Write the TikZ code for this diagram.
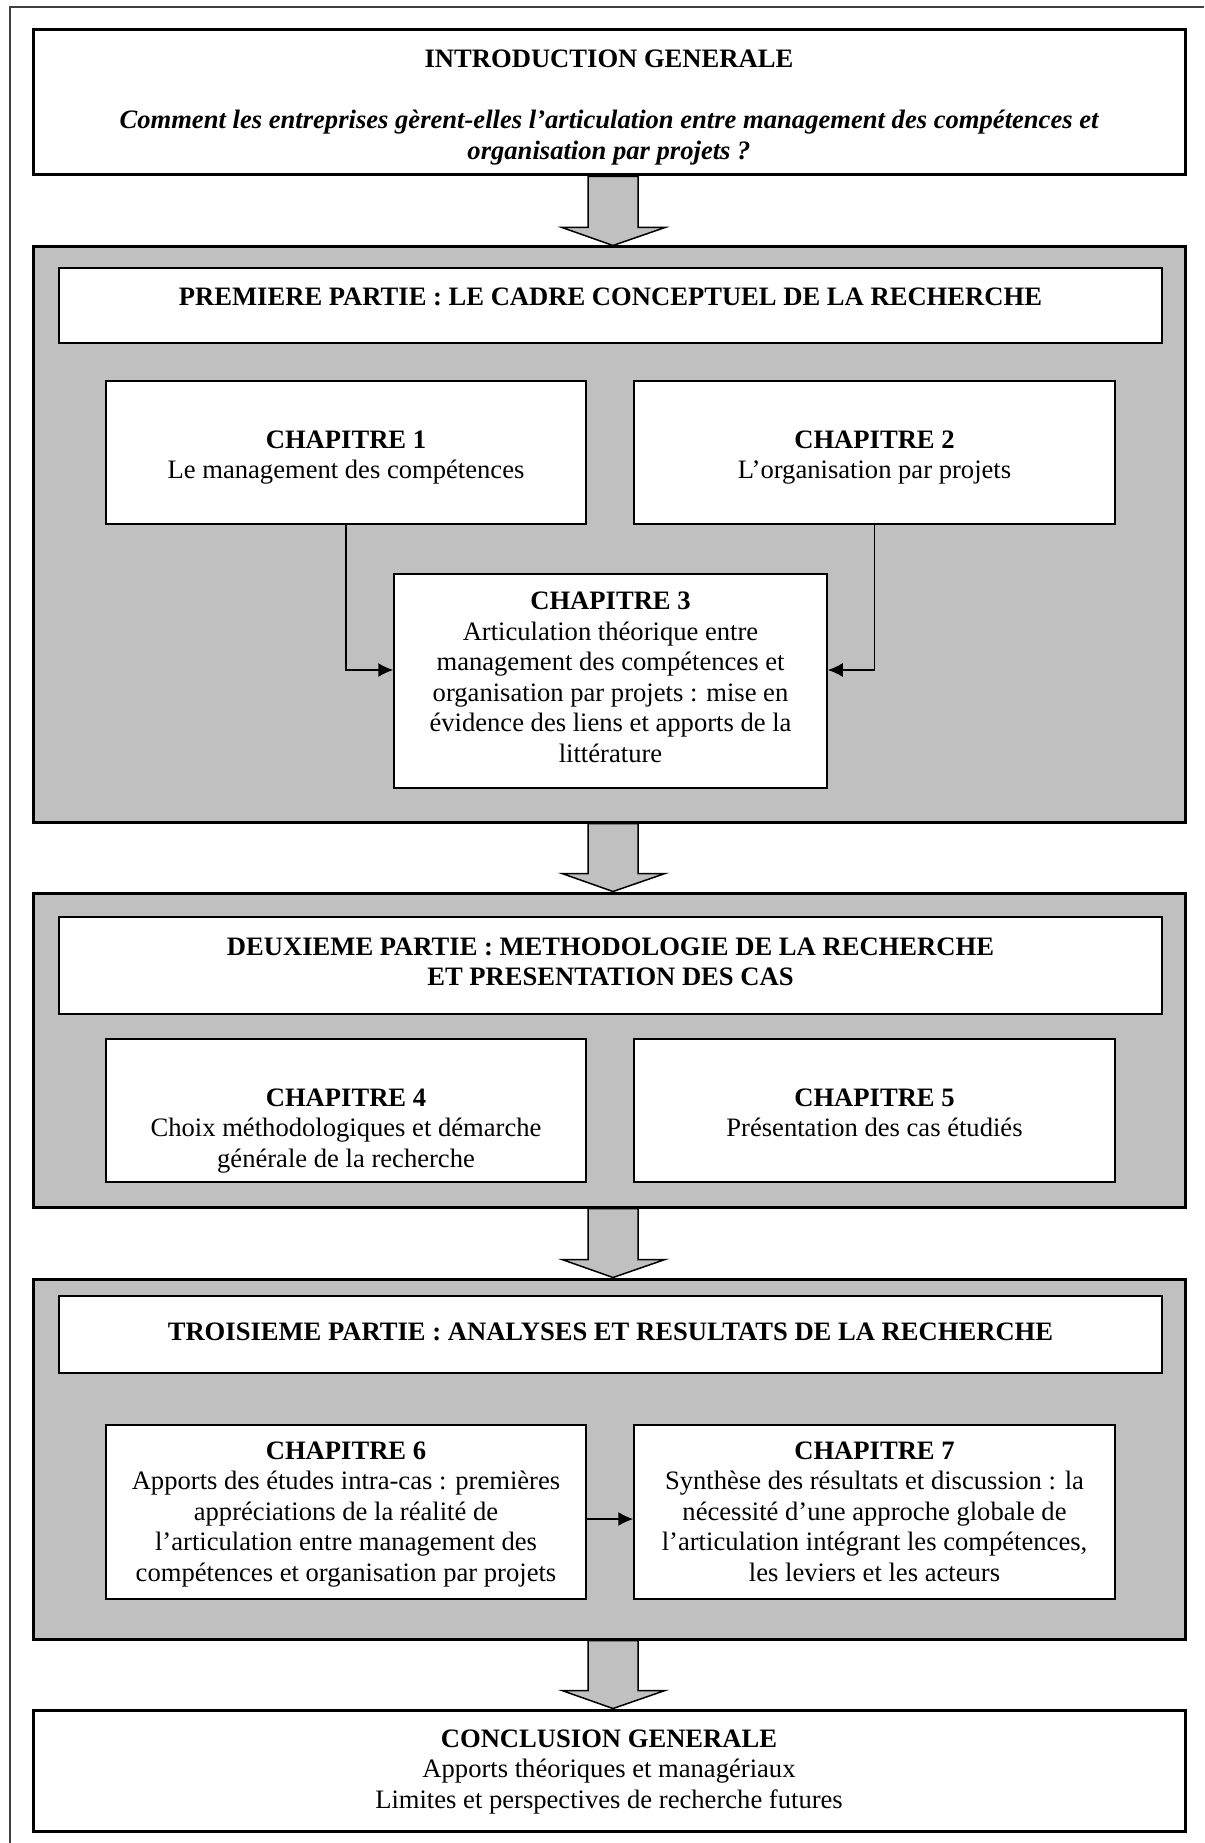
\documentclass[tikz,border=0pt]{standalone}
\usepackage{fontspec}
\setmainfont{Liberation Serif}
\usetikzlibrary{arrows.meta,calc,backgrounds}
\definecolor{panelgray}{HTML}{C0C0C0}
\tikzset{
  txt/.style={align=center, inner sep=0pt, font=\fontsize{26.6}{30.5}\selectfont},
  outerbox/.style={draw=black, fill=white, line width=3pt, inner sep=0pt},
  panel/.style={draw=black, fill=panelgray, line width=3pt, inner sep=0pt},
  titlebox/.style={draw=black, fill=white, line width=1.5pt, inner sep=0pt},
  chapbox/.style={draw=black, fill=white, line width=1.5pt, inner sep=0pt},
  conn/.style={line width=1.5pt, -{Latex[length=15pt,width=14pt]}},
  bigarr/.style={fill=panelgray, draw=black, line width=1.5pt, line join=miter},
}
\newcommand\bigarrow[2]{%
  \path[bigarr] let \p1=(#1.south), \p2=(#2.north) in
  (\x1-21pt,\y1) -- (\x1-21pt,\y2+18pt) -- (\x1-47pt,\y2+18pt) -- (\x1+4pt,\y2)
  -- (\x1+56pt,\y2+18pt) -- (\x1+29pt,\y2+18pt) -- (\x1+29pt,\y1) -- cycle;}

\begin{document}
\begin{tikzpicture}[x=1pt,y=-1pt]
\useasboundingbox (0,0) rectangle (1204,1843);
\draw[black!75, line width=1.2pt] (10,1843) -- (10,7) -- (1204,7);

% Introduction
\node[outerbox, minimum width=1152pt, minimum height=145pt] (intro) at (609,102.5) {};
\node[txt] (intro-t) at ([yshift=-5pt]intro.center)
  {\textbf{INTRODUCTION GENERALE}\\[30.5pt]
   {\bfseries\itshape Comment les entreprises gèrent-elles l’articulation entre management des compétences et}\\
   {\bfseries\itshape organisation par projets ?}};

% Part 1
\node[panel, minimum width=1152pt, minimum height=575pt] (p1) at (609,534.5) {};
\node[titlebox, minimum width=1103pt, minimum height=75pt] (p1t) at (610.5,305.5) {};
\node[txt] (p1t-t) at ([yshift=9pt]p1t.center)
  {\textbf{PREMIERE PARTIE : LE CADRE CONCEPTUEL DE LA RECHERCHE}};
\node[chapbox, minimum width=480pt, minimum height=143pt] (ch1) at (346,452.5) {};
\node[txt] (ch1-t) at ([yshift=-5pt]ch1.center)
  {\textbf{CHAPITRE 1}\\Le management des compétences};
\node[chapbox, minimum width=481pt, minimum height=143pt] (ch2) at (874.5,452.5) {};
\node[txt] (ch2-t) at ([yshift=-5pt]ch2.center)
  {\textbf{CHAPITRE 2}\\L’organisation par projets};
\node[chapbox, minimum width=433pt, minimum height=214pt] (ch3) at (610.5,681) {};
\node[txt] (ch3-t) at ([yshift=3.5pt]ch3.center)
  {\textbf{CHAPITRE 3}\\Articulation théorique entre\\management des compétences et\\organisation par projets : mise en\\évidence des liens et apports de la\\littérature};
\draw[conn] (ch1.south) |- ([yshift=11pt]ch3.west);
\draw[conn] (ch2.south) |- ([yshift=11pt]ch3.east);

% Part 2
\node[panel, minimum width=1152pt, minimum height=314pt] (p2) at (609,1050) {};
\node[titlebox, minimum width=1103pt, minimum height=97pt] (p2t) at (610.5,965.5) {};
\node[txt] (p2t-t) at ([yshift=3.5pt]p2t.center)
  {\textbf{DEUXIEME PARTIE : METHODOLOGIE DE LA RECHERCHE}\\\textbf{ET PRESENTATION DES CAS}};
\node[chapbox, minimum width=480pt, minimum height=143pt] (ch4) at (346,1110.5) {};
\node[txt, anchor=north] (ch4-t) at ([yshift=-50pt]ch4.north)
  {\textbf{CHAPITRE 4}\\Choix méthodologiques et démarche\\générale de la recherche};
\node[chapbox, minimum width=481pt, minimum height=143pt] (ch5) at (874.5,1110.5) {};
\node[txt, anchor=north] (ch5-t) at ([yshift=-50pt]ch5.north)
  {\textbf{CHAPITRE 5}\\Présentation des cas étudiés};

% Part 3
\node[panel, minimum width=1152pt, minimum height=360pt] (p3) at (609,1459) {};
\node[titlebox, minimum width=1103pt, minimum height=77pt] (p3t) at (610.5,1334.5) {};
\node[txt] (p3t-t) at ([yshift=2.5pt]p3t.center)
  {\textbf{TROISIEME PARTIE : ANALYSES ET RESULTATS DE LA RECHERCHE}};
\node[chapbox, minimum width=480pt, minimum height=174pt] (ch6) at (346,1512) {};
\node[txt, anchor=north] (ch6-t) at ([yshift=-17pt]ch6.north)
  {\textbf{CHAPITRE 6}\\Apports des études intra-cas : premières\\appréciations de la réalité de\\l’articulation entre management des\\compétences et organisation par projets};
\node[chapbox, minimum width=481pt, minimum height=174pt] (ch7) at (874.5,1512) {};
\node[txt, anchor=north] (ch7-t) at ([yshift=-17pt]ch7.north)
  {\textbf{CHAPITRE 7}\\Synthèse des résultats et discussion : la\\nécessité d’une approche globale de\\l’articulation intégrant les compétences,\\les leviers et les acteurs};
\draw[conn] ([yshift=-7pt]ch6.east) -- ([yshift=-7pt]ch7.west);

% Conclusion
\node[outerbox, minimum width=1152pt, minimum height=121pt] (concl) at (609,1770.5) {};
\node[txt] (concl-t) at ([yshift=-1.5pt]concl.center)
  {\textbf{CONCLUSION GENERALE}\\Apports théoriques et managériaux\\Limites et perspectives de recherche futures};

\begin{scope}[on background layer]
  \bigarrow{intro}{p1}
  \bigarrow{p1}{p2}
  \bigarrow{p2}{p3}
  \bigarrow{p3}{concl}
\end{scope}
\end{tikzpicture}
\end{document}
